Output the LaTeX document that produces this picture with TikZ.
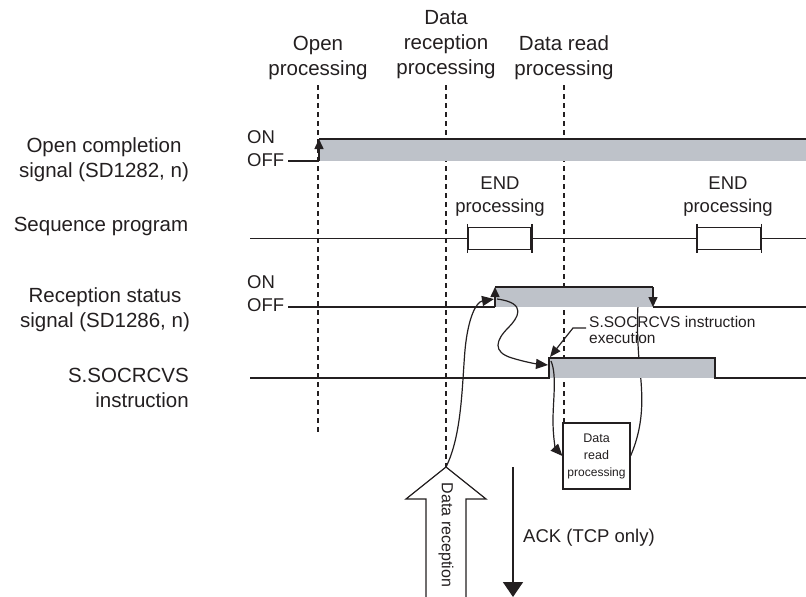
\documentclass[tikz,border=0pt]{standalone}
\usepackage{fontspec}
\setmainfont{Liberation Sans}
\usetikzlibrary{arrows.meta}
\definecolor{barfill}{RGB}{190,194,201}
\definecolor{ink}{RGB}{35,31,32}
\begin{document}
\begin{tikzpicture}[x=1pt,y=-1pt,
  sig/.style={line width=1.5pt, draw=ink},
  guide/.style={dash pattern=on 5pt off 4pt, line width=1.1pt, draw=ink},
  edgetip/.style={-{Triangle[length=10pt,width=9pt]}},
  curvy/.style={line width=1.2pt, draw=ink, -{Triangle[length=12pt,width=10pt]}},
  plain/.style={line width=1.2pt, draw=ink},
  biglabel/.style={font=\fontsize{20.5}{25}\selectfont, align=center, text=ink, inner sep=0pt},
  midlabel/.style={font=\fontsize{18.5}{23}\selectfont, align=center, text=ink, inner sep=0pt},
  smalllabel/.style={font=\fontsize{15.5}{16}\selectfont, align=left, text=ink, inner sep=0pt},
  endbox/.style={draw=ink, line width=1.5pt, fill=white, minimum width=63pt, minimum height=22pt, inner sep=0pt},
  readbox/.style={draw=ink, line width=1.1pt, fill=white, minimum width=67pt, minimum height=66pt, inner sep=0pt, align=center, text=ink, font=\fontsize{12.5}{17}\selectfont}
]
\useasboundingbox (0,0) rectangle (806,597);

% ---- top labels
\node[biglabel] (lopen) at (318,58) {Open\\processing};
\node[biglabel] (lrecv) at (446,45) {Data\\reception\\processing};
\node[biglabel] (lread) at (564,58) {Data read\\processing};

% ---- left labels
\node[biglabel] (lsig1) at (104,160) {Open completion\\signal (SD1282, n)};
\node[biglabel] (lseq) at (101,226) {Sequence program};
\node[biglabel] (lsig2) at (105,310) {Reception status\\signal (SD1286, n)};
\node[biglabel, align=right, anchor=east] (linst) at (189,388) {S.SOCRCVS\\instruction};

% ---- ON/OFF labels
\node[midlabel, anchor=west] (on1) at (247,137) {ON};
\node[midlabel, anchor=west] (off1) at (247,160) {OFF};
\node[midlabel, anchor=west] (on2) at (247,282) {ON};
\node[midlabel, anchor=west] (off2) at (247,305) {OFF};

% ---- dashed guides
\coordinate (g1t) at (318,85); \coordinate (g1b) at (318,435);
\coordinate (g2t) at (446,85);
\coordinate (g3t) at (564,85);

% ---- data read box and data reception arrow (guides end on them)
\node[readbox] (rbox) at (596.5,456) {Data\\read\\{\fontsize{12}{17}\selectfont processing}};
\coordinate (dtip) at (446,467);
\draw[guide] (g1t) -- (g1b);
\draw[guide] (g2t) -- (dtip);
\draw[guide] (g3t) -- (rbox.north -| g3t);

% ---- Open completion signal
\fill[barfill] (319,139) rectangle (806,161);
\coordinate (oc0) at (288,161); \coordinate (ocb) at (319,161);
\coordinate (oct) at (319,139); \coordinate (oce) at (806,139);
\draw[sig] (oc0) -- (ocb);
\draw[sig, edgetip] (ocb) -- (oct);
\draw[sig] (oct) -- (oce);

% ---- Sequence program
\coordinate (sq0) at (250,238.5); \coordinate (sqe) at (806,238.5);
\draw[sig] (sq0) -- (sqe);
\node[endbox] (e1) at (499.5,238.5) {};
\node[endbox] (e2) at (729,238.5) {};
\foreach \b in {e1,e2}{
  \draw[sig] ([yshift=3pt]\b.north west) -- ([yshift=-3pt]\b.south west);
  \draw[sig] ([yshift=3pt]\b.north east) -- ([yshift=-3pt]\b.south east);
}
\node[midlabel] (end1) at (500,197) {END\\processing};
\node[midlabel] (end2) at (728,197) {END\\processing};

% ---- curve behind the S.SOCRCVS bar (from data read box back to reception fall)
\coordinate (rs1) at (495,307); \coordinate (rs2) at (495,287);
\coordinate (rs3) at (653,287); \coordinate (rs4) at (653,307);
\draw[curvy] (rbox.east) .. controls (646,420) and (642,390) .. (639,360)
  .. controls (636,320) and (638,297) .. (650,290);

% ---- Reception status signal
\fill[barfill] (rs2) rectangle (rs4);
\coordinate (rs0) at (288,307); \coordinate (rse) at (806,307);
\draw[sig] (rs0) -- (rs1);
\draw[sig, edgetip] (rs1) -- (rs2);
\draw[sig] (rs2) -- (rs3);
\draw[sig, edgetip] (rs3) -- (rs4);
\draw[sig] (rs4) -- (rse);

% ---- S.SOCRCVS instruction signal
\coordinate (ss0) at (250,378); \coordinate (ss1) at (549,378);
\coordinate (ss2) at (549,358); \coordinate (ss3) at (715,358);
\coordinate (ss4) at (715,378); \coordinate (sse) at (806,378);
\fill[barfill] (ss2) rectangle (ss4);
\draw[sig] (ss0) -- (ss1) -- (ss2) -- (ss3) -- (ss4) -- (sse);

% ---- causal curves
\draw[curvy] (dtip) .. controls (462,435) and (462,385) .. (465,350)
  .. controls (468,318) and (476,302) .. (494,299);
\draw[curvy] (497,299) .. controls (528,303) and (518,318) .. (508,328)
  .. controls (496,340) and (492,352) .. (512,358)
  .. controls (525,362) and (537,364) .. (548,365);
\draw[curvy] (551,361) .. controls (557,375) and (553,400) .. (553,420)
  .. controls (553,440) and (556,449) .. (rbox.west);

% ---- S.SOCRCVS instruction execution label
\node[smalllabel, anchor=west] (exec) at (589,330) {S.SOCRCVS instruction\\execution};
\coordinate (ex1) at (573,328);
\draw[plain, -{Triangle[length=11pt,width=9pt]}] (586,328) -- (ex1) -- (550,357);

% ---- Data reception hollow arrow
\draw[line width=1.2pt, draw=ink, fill=white] (dtip) -- (486,499) -- (466,499) -- (466,600)
  -- (426,600) -- (426,499) -- (406,499) -- cycle;
\node[font=\fontsize{16}{16}\selectfont, text=ink, rotate=-90, inner sep=0pt] (drtext) at (446,535) {Data reception};

% ---- ACK arrow
\coordinate (ack0) at (513,467); \coordinate (ack1) at (513,597);
\draw[line width=1.6pt, draw=ink, -{Triangle[length=15pt,width=20pt]}] (ack0) -- (ack1);
\node[midlabel, anchor=west] (acktext) at (523,538) {ACK (TCP only)};
\end{tikzpicture}
\end{document}
